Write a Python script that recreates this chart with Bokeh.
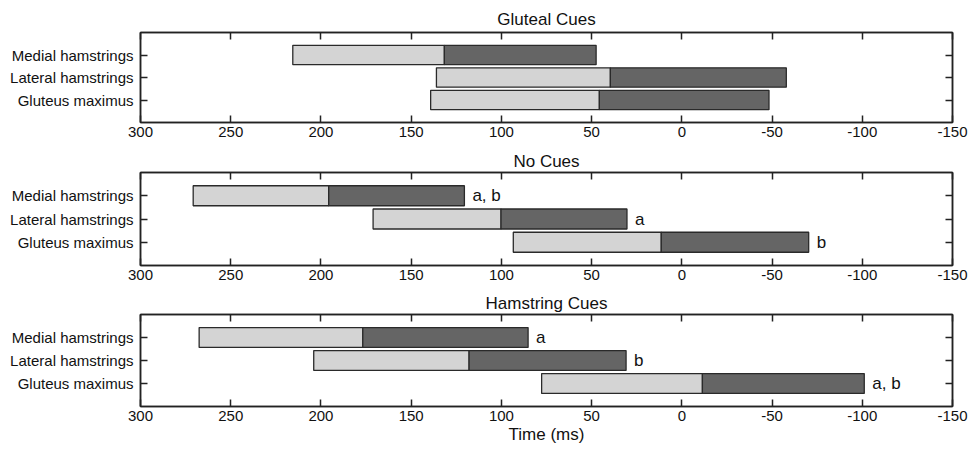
from bokeh.plotting import figure
from bokeh.layouts import column
from bokeh.models import Range1d, FixedTicker, LinearAxis, ColumnDataSource, CustomLabelingPolicy
from bokeh.core.properties import value
from bokeh.embed import file_html
from bokeh.resources import INLINE

muscles = ["Medial hamstrings", "Lateral hamstrings", "Gluteus maximus"]
x_ticks = [300, 250, 200, 150, 100, 50, 0, -50, -100, -150]
x_tick_labels = ["300", "250", "200", "150", "100", "50", "0", "-50", "-100", "-150"]

panel_titles = ["Gluteal Cues", "No Cues", "Hamstring Cues"]

gluteal_start = [215.6, 136.0, 139.2]
gluteal_mid = [131.6, 39.6, 45.7]
gluteal_end = [47.5, -57.9, -48.3]
gluteal_notes = ["", "", ""]

nocue_start = [270.8, 171.1, 93.4]
nocue_mid = [195.7, 100.2, 11.4]
nocue_end = [120.5, 30.4, -70.3]
nocue_notes = ["a, b", "a", "b"]

ham_start = [267.5, 204.0, 77.7]
ham_mid = [176.8, 117.9, -11.4]
ham_end = [85.2, 30.9, -101.1]
ham_notes = ["a", "b", "a, b"]

FONT = "Liberation Sans"
LIGHT = "#d4d4d4"
DARK = "#656565"
EDGE = "#2a2a2a"
INK = "#111111"

positions = list(range(1, len(muscles) + 1))


def hidden_labels():
    return CustomLabelingPolicy(code="const all = [...indices]; for (const i of all) { indices.unset(i) } return indices")


def make_panel(title, start, mid, end, notes, height, top, bottom, title_gap, xlabel=None):
    p = figure(width=969, height=height, output_backend="svg", toolbar_location=None,
               x_range=Range1d(300, -150), y_range=Range1d(len(muscles) + 1, 0),
               min_border_left=140, min_border_right=17,
               min_border_top=top, min_border_bottom=bottom,
               x_axis_location="below", y_axis_location="left")
    p.title.text = title
    p.title.align = "center"
    p.title.text_font = FONT
    p.title.text_font_size = "17px"
    p.title.text_font_style = "normal"
    p.title.text_color = INK
    p.title.standoff = title_gap
    p.grid.visible = False
    p.outline_line_color = "#222222"
    p.outline_line_width = 1.5

    src = ColumnDataSource(dict(y=positions, start=start, mid=mid, end=end, notes=notes))
    p.hbar(y="y", left="start", right="mid", height=0.86, source=src,
           fill_color=LIGHT, line_color=EDGE, line_width=1.3)
    p.hbar(y="y", left="mid", right="end", height=0.86, source=src,
           fill_color=DARK, line_color=EDGE, line_width=1.3)
    p.text(x="end", y="y", text="notes", source=src, x_offset=8,
           text_baseline="middle", text_align="left",
           text_font=value(FONT), text_font_size="17px", text_color=INK)

    # bottom axis
    xa = p.xaxis[0]
    xa.ticker = FixedTicker(ticks=x_ticks)
    xa.major_label_overrides = {t: lab for t, lab in zip(x_ticks, x_tick_labels)}
    xa.major_tick_in = 7
    xa.major_tick_out = 0
    xa.minor_tick_in = 0
    xa.minor_tick_out = 0
    xa.major_label_standoff = 4
    xa.major_label_text_font = FONT
    xa.major_label_text_font_size = "15px"
    xa.major_label_text_color = INK
    xa.axis_line_color = "#222222"
    xa.axis_line_width = 1.5
    xa.major_tick_line_color = "#222222"
    xa.major_tick_line_width = 1.5
    if xlabel:
        xa.axis_label = xlabel
        xa.axis_label_text_font = FONT
        xa.axis_label_text_font_size = "17px"
        xa.axis_label_text_font_style = "normal"
        xa.axis_label_text_color = INK
        xa.axis_label_standoff = 1

    # top axis (ticks only)
    ta = LinearAxis(ticker=FixedTicker(ticks=x_ticks), major_tick_in=7, major_tick_out=0,
                    minor_tick_in=0, minor_tick_out=0, major_label_text_font_size="0px",
                    major_label_policy=hidden_labels(),
                    major_label_standoff=0, axis_line_color="#222222", axis_line_width=1.5,
                    major_tick_line_color="#222222", major_tick_line_width=1.5)
    p.add_layout(ta, "above")

    # left axis
    ya = p.yaxis[0]
    ya.ticker = FixedTicker(ticks=positions)
    ya.major_label_overrides = {pos: name for pos, name in zip(positions, muscles)}
    ya.major_tick_in = 7
    ya.major_tick_out = 0
    ya.minor_tick_in = 0
    ya.minor_tick_out = 0
    ya.major_label_standoff = 7
    ya.major_label_text_font = FONT
    ya.major_label_text_font_size = "15px"
    ya.major_label_text_color = INK
    ya.axis_line_color = "#222222"
    ya.axis_line_width = 1.5
    ya.major_tick_line_color = "#222222"
    ya.major_tick_line_width = 1.5

    # right axis (ticks only)
    ra = LinearAxis(ticker=FixedTicker(ticks=positions), major_tick_in=7, major_tick_out=0,
                    minor_tick_in=0, minor_tick_out=0, major_label_text_font_size="0px",
                    major_label_policy=hidden_labels(),
                    major_label_standoff=0, axis_line_color="#222222", axis_line_width=1.5,
                    major_tick_line_color="#222222", major_tick_line_width=1.5)
    p.add_layout(ra, "right")
    return p


p1 = make_panel(panel_titles[0], gluteal_start, gluteal_mid, gluteal_end, gluteal_notes, 144, 32, 22, 8)
p2 = make_panel(panel_titles[1], nocue_start, nocue_mid, nocue_end, nocue_notes, 143, 28, 22, 4)
p3 = make_panel(panel_titles[2], ham_start, ham_mid, ham_end, ham_notes, 163, 27, 44, 3, xlabel="Time (ms)")

layout = column(p1, p2, p3, spacing=0)
open("out.html", "w").write(file_html(layout, INLINE))
